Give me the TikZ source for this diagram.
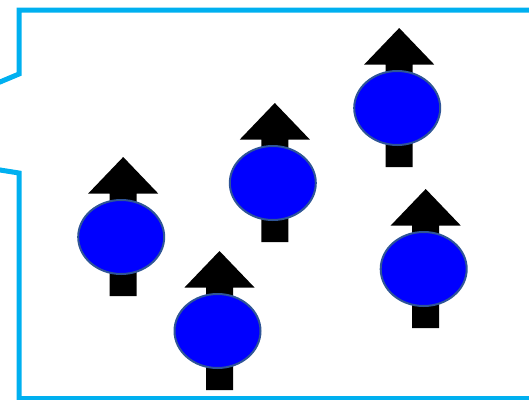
\documentclass[tikz,border=0pt]{standalone}
\usetikzlibrary{shapes.geometric}
\definecolor{framecyan}{HTML}{00B0F0}
\definecolor{ballblue}{HTML}{0000FF}
\definecolor{ballrim}{HTML}{2F5597}
\tikzset{
  frameline/.style={draw=framecyan, line width=5pt, line join=miter},
  spinball/.style={ellipse, fill=ballblue, draw=ballrim, line width=2pt,
    inner sep=0pt, minimum width=86pt, minimum height=74pt},
  spinarrow/.style={fill=black}
}
\begin{document}
\begin{tikzpicture}[x=1pt,y=-1pt]
\useasboundingbox (0,0) rectangle (529,399);
\begin{scope}
\clip (0,0) rectangle (529,399);
% outline with the notch on the left side
\draw[frameline] (540,10) -- (19,10) -- (19,74) -- (-10,86.2)
  (-10,168.4) -- (19,173) -- (19,398.5) -- (540,398.5);
\end{scope}
% spins: an up arrow behind each ball
\foreach \n/\cx/\cy in {1/121.2/237, 2/397.2/108, 3/272.8/183, 4/217.5/331, 5/423.7/269}{
  \fill[spinarrow] (\cx+2,\cy-80) -- (\cx+37,\cy-43.5) -- (\cx+15.5,\cy-43.5)
    -- (\cx+15.5,\cy+59) -- (\cx-11.5,\cy+59) -- (\cx-11.5,\cy-43.5)
    -- (\cx-33,\cy-43.5) -- cycle;
  \node[spinball] (s\n) at (\cx,\cy) {};
}
\end{tikzpicture}
\end{document}
